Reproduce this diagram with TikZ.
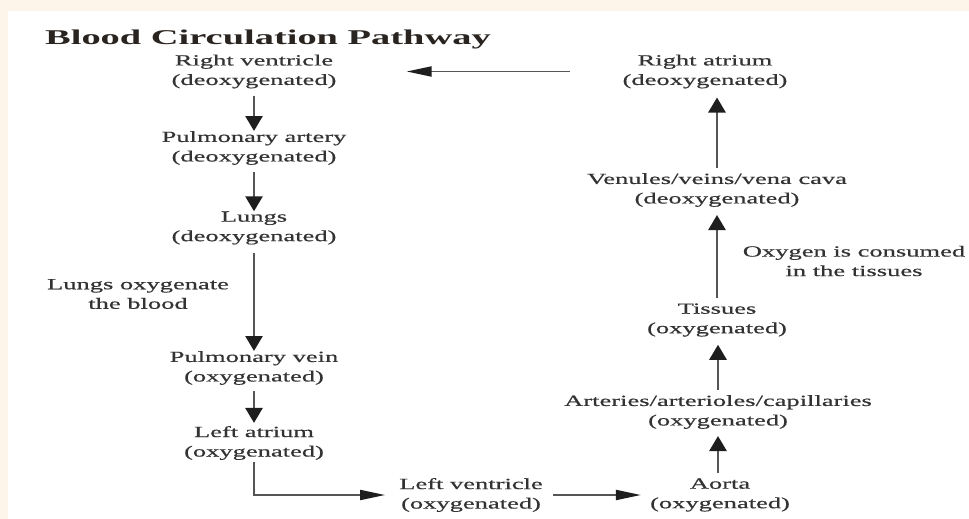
\documentclass[tikz,border=0pt]{standalone}
\usepackage{fontspec}
\setmainfont{Liberation Serif}[FakeStretch=1.71,FakeBold=0.5]
\newfontfamily\titlefont{Liberation Serif}[FakeStretch=1.83]
\usetikzlibrary{arrows.meta}
\definecolor{cream}{HTML}{FDF5E9}
\definecolor{txt}{HTML}{333333}
\definecolor{ttl}{HTML}{2A2420}
\definecolor{shaft}{HTML}{555555}
\definecolor{head}{HTML}{1E1E1E}
\tikzset{
  lbl/.style={align=center, inner sep=2pt, text=txt, font=\fontsize{15.5}{19.5}\selectfont},
  varrow/.style={draw=shaft, line width=2.6pt, -{Triangle[length=15pt,width=17pt,color=head]}},
  harrow/.style={draw=shaft, line width=1.9pt, -{Triangle[length=25pt,width=10pt,color=head]}},
}
\begin{document}
\begin{tikzpicture}[x=1pt,y=-1pt]
\useasboundingbox (0,0) rectangle (969,519);
\fill[cream] (0,0) rectangle (969,519);
\fill[white] (8,11) rectangle (969,519);

\node[anchor=base west, text=ttl, inner sep=0pt, font=\titlefont\bfseries\fontsize{21}{25}\selectfont] (title) at (45,45) {Blood Circulation Pathway};

\node[lbl] (rv) at (254,71.5) {Right ventricle\\(deoxygenated)};
\node[lbl] (pa) at (254,148) {Pulmonary artery\\(deoxygenated)};
\node[lbl] (lungs) at (254,228) {Lungs\\(deoxygenated)};
\node[lbl] (lob) at (138,294) {Lungs oxygenate\\the blood};
\node[lbl] (pv) at (254,368) {Pulmonary vein\\(oxygenated)};
\node[lbl] (la) at (254,443) {Left atrium\\(oxygenated)};
\node[lbl] (lv) at (471,495) {Left ventricle\\(oxygenated)};
\node[lbl] (aorta) at (720,495) {Aorta\\(oxygenated)};
\node[lbl] (art) at (718,412) {Arteries/arterioles/capillaries\\(oxygenated)};
\node[lbl] (tis) at (717,320) {Tissues\\(oxygenated)};
\node[lbl] (ven) at (717,190) {Venules/veins/vena cava\\(deoxygenated)};
\node[lbl] (oxy) at (854,261) {Oxygen is consumed\\in the tissues};
\node[lbl] (ra) at (705,71.5) {Right atrium\\(deoxygenated)};

\draw[varrow, shorten <=5pt, shorten >=-2pt] (rv) -- (pa);
\draw[varrow, shorten <=5pt, shorten >=-2pt] (pa) -- (lungs);
\draw[varrow, shorten <=6pt, shorten >=-2pt] (lungs) -- (pv);
\draw[varrow, shorten <=4pt, shorten >=1pt] (pv) -- (la);
\draw[harrow, shorten >=12pt] (la.south) |- (lv.west);
\draw[harrow, shorten <=8pt, shorten >=7pt] (lv.east) -- (aorta.west);
\draw[varrow, shorten <=3pt, shorten >=5pt] (aorta.north -| art.north) -- (art.south);
\draw[varrow, shorten <=3pt, shorten >=6pt] (art.north) -- (art.north |- tis.south);
\draw[varrow, shorten <=3pt, shorten >=6pt] (tis) -- (ven);
\draw[varrow, shorten <=3pt, shorten >=7pt] (ven.north) -- (ven.north |- ra.south);
\draw[harrow, shorten <=50pt, shorten >=68pt] (ra.west) -- (rv.east);
\end{tikzpicture}
\end{document}
